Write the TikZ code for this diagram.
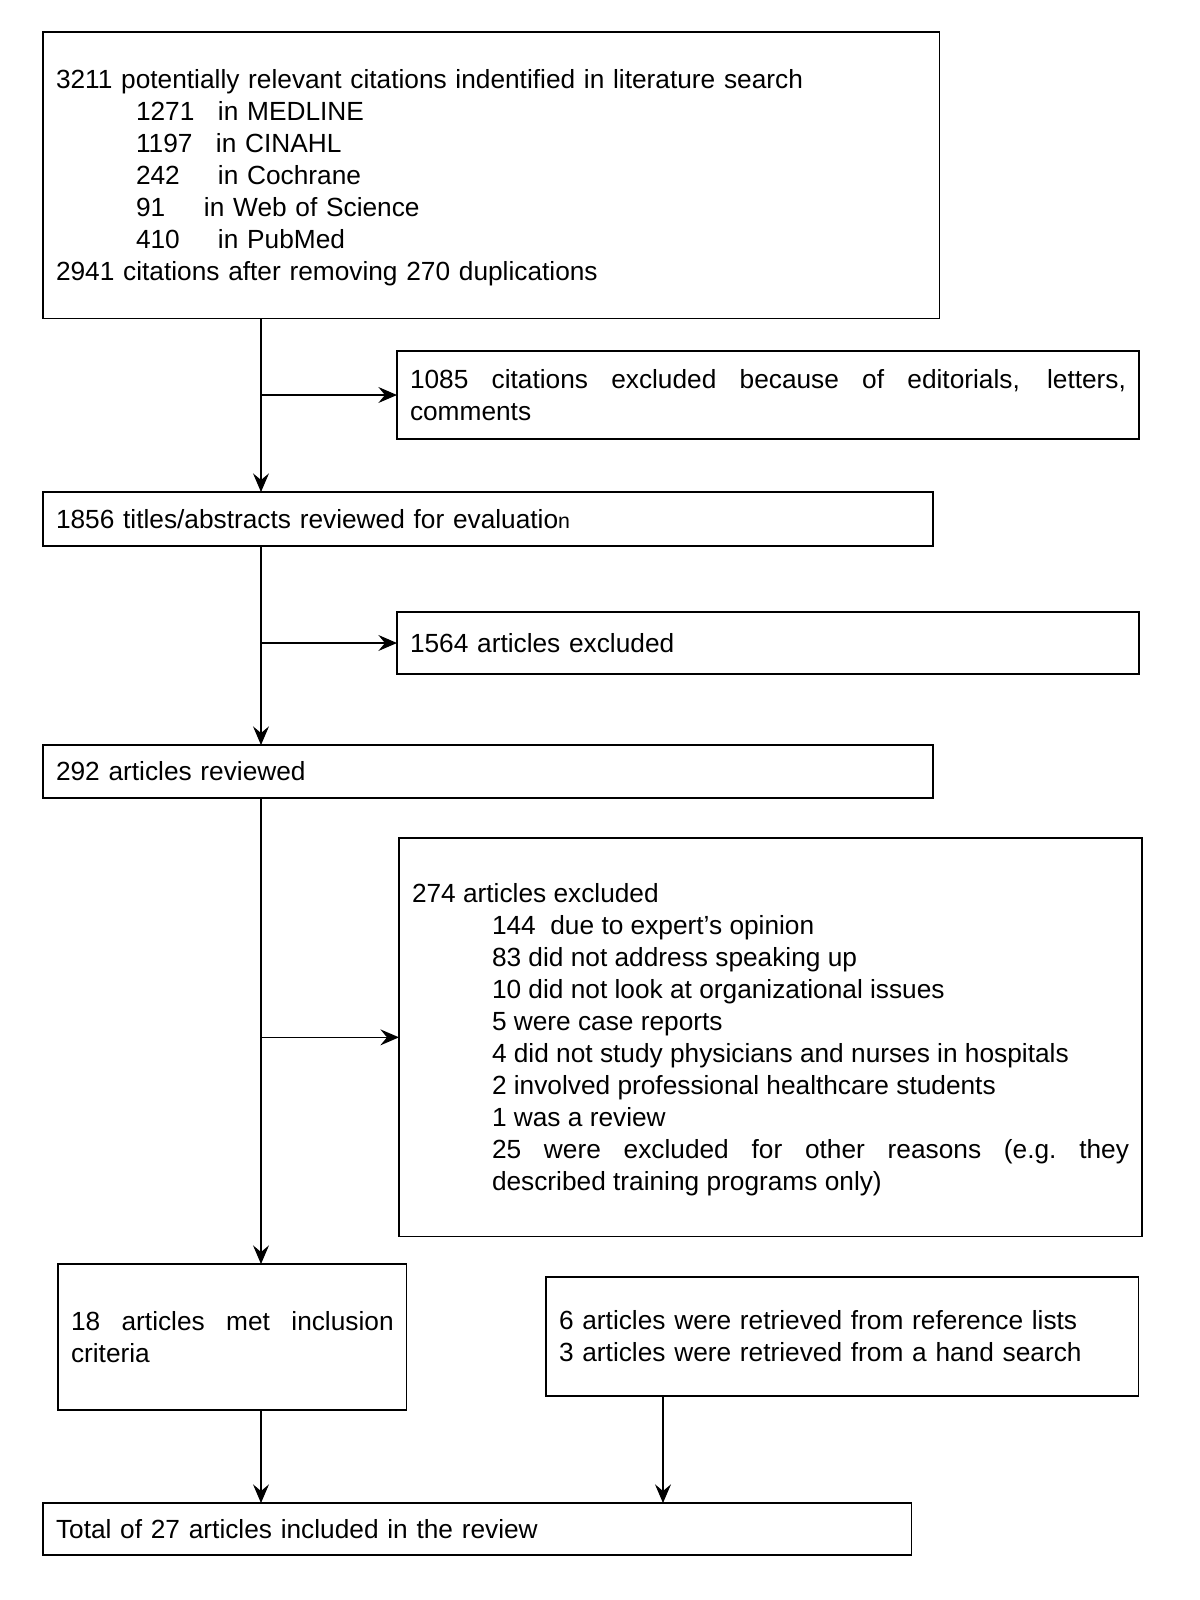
\documentclass[tikz,border=0pt]{standalone}
\usepackage{fontspec}
\setmainfont{Liberation Sans}
\usetikzlibrary{arrows.meta}
\hyphenpenalty=10000
\tikzset{
    box/.style={draw=black, line width=1.2pt, fill=white, anchor=north west, outer sep=0pt, inner xsep=9.75pt, inner ysep=2pt, font=\fontsize{19.7}{24}\selectfont},
    arrow/.style={-{Stealth[length=14pt, width=12pt, inset=5pt]}, line width=1pt, black}
}

\begin{document}
\begin{tikzpicture}[x=0.75pt, y=-0.75pt]
        \useasboundingbox (0,0) rectangle (1200,1600);
        \coordinate (trunk) at (261,0);
        \coordinate (drop) at (663,0);
        \node [box, align=left, text width=653pt, minimum height=215pt] (search) at (43,32) {\rule{0pt}{18.5pt}3211 potentially relevant citations indentified in literature search\\
            \hspace*{60pt}\makebox[61.5pt][l]{1271}in MEDLINE\\
            \hspace*{60pt}\makebox[60pt][l]{1197}in CINAHL\\
            \hspace*{60pt}\makebox[61.5pt][l]{242}in Cochrane\\
            \hspace*{60pt}\makebox[51pt][l]{91}in Web of Science\\
            \hspace*{60pt}\makebox[61.5pt][l]{410}in PubMed\\
            2941 citations after removing 270 duplications};
        \node [box, align=justify, text width=537pt, minimum height=66pt] (excl1) at (397,351) {1085 citations excluded because of editorials, letters,\linebreak comments};
        \node [box, align=left, text width=648pt, minimum height=40.5pt] (screen) at (43,492) {1856 titles/abstracts reviewed for evaluatio{\fontsize{16}{24}\selectfont n}};
        \node [box, align=left, text width=537pt, minimum height=46.5pt] (excl2) at (397,612) {1564 articles excluded};
        \node [box, align=left, text width=648pt, minimum height=39.75pt] (full) at (43,745) {292 articles reviewed};
        \node [box, align=justify, text width=537.75pt, minimum height=299pt] (excl3) at (399,838) {\rule{0pt}{18.5pt}274 articles excluded\par
            {\leftskip=60pt
            144\ \ due to expert's opinion\par
            83 did not address speaking up\par
            10 did not look at organizational issues\par
            5 were case reports\par
            4 did not study physicians and nurses in hospitals\par
            2 involved professional healthcare students\par
            1 was a review\par
            25 were excluded for other reasons (e.g.\ they\linebreak described training programs only)\par}};
        \node [box, align=justify, text width=242pt, minimum height=109.5pt] (incl) at (58,1264) {18 articles met inclusion\linebreak criteria};
        \node [box, align=left, text width=425pt, minimum height=89.25pt] (extra) at (546,1277) {6 articles were retrieved from reference lists\\ 3 articles were retrieved from a hand search};
        \node [box, align=left, text width=632pt, minimum height=39pt] (total) at (43,1503) {Total of 27 articles included in the review};
        \draw [arrow] (search.south -| trunk) -- (screen.north -| trunk);
        \draw [arrow] (excl1.west -| trunk) -- (excl1.west);
        \draw [arrow] (screen.south -| trunk) -- (full.north -| trunk);
        \draw [arrow] (excl2.west -| trunk) -- (excl2.west);
        \draw [arrow] (full.south -| trunk) -- (incl.north -| trunk);
        \draw [arrow] (excl3.west -| trunk) -- (excl3.west);
        \draw [arrow] (incl.south -| trunk) -- (total.north -| trunk);
        \draw [arrow] (extra.south -| drop) -- (total.north -| drop);
    \end{tikzpicture}
\end{document}
